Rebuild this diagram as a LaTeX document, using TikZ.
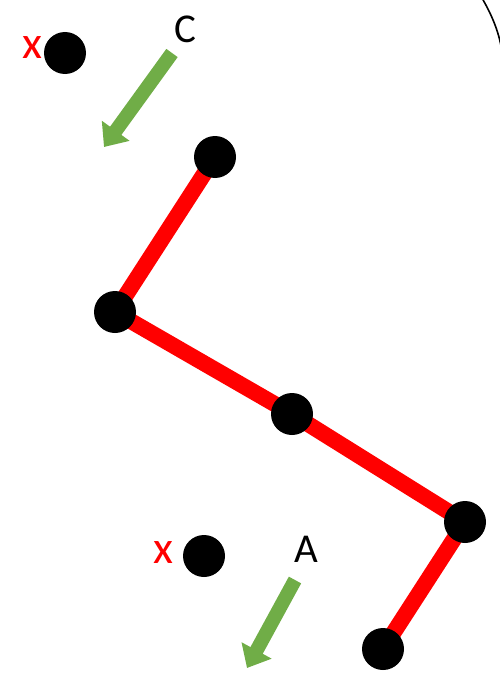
\documentclass[tikz,border=0pt]{standalone}
\usepackage{fontspec}
\setmainfont{Carlito}
\usetikzlibrary{arrows.meta,backgrounds}
\definecolor{officegreen}{RGB}{112,173,71}
\tikzset{
  dot/.style={circle,fill=black,draw=none,minimum size=42pt,inner sep=0pt},
  redlink/.style={draw=red,line width=16pt},
  greenarrow/.style={draw=officegreen,line width=14pt,-{Triangle[width=33pt,length=20pt,fill=officegreen]}},
  lbl/.style={inner sep=0pt,font=\fontsize{41}{41}\selectfont},
  redx/.style={inner sep=0pt,text=red,font=\fontsize{46}{46}\selectfont}
}
\begin{document}
\begin{tikzpicture}[x=1pt,y=-1pt]
\useasboundingbox (0,0) rectangle (500,677);
\node[dot] (x1) at (65,53) {};
\node[redx] (xa) at (32,48) {x};
\node[lbl] (C) at (185,29) {C};
\coordinate (cs) at (172,53);
\coordinate (ce) at (104,147);
\draw[greenarrow] (cs) -- (ce);

\node[dot] (p1) at (215,157) {};
\node[dot] (p2) at (115,312) {};
\node[dot] (p3) at (292,414) {};
\node[dot] (p4) at (465,522) {};
\node[dot] (p5) at (383,649) {};
\begin{scope}[on background layer]
\draw[redlink] (p1.center) -- (p2.center) -- (p3.center) -- (p4.center) -- (p5.center);
\end{scope}

\node[dot] (x2) at (204,556) {};
\node[redx] (xb) at (163,553) {x};
\node[lbl] (A) at (306,549) {A};
\coordinate (as) at (295,580);
\coordinate (ae) at (247,668);
\draw[greenarrow] (as) -- (ae);

\coordinate (arcs) at (482,-2);
\coordinate (arce) at (502,52);
\draw[line width=1.6pt] (arcs) .. controls (490,12) and (499,30) .. (arce);
\end{tikzpicture}
\end{document}
